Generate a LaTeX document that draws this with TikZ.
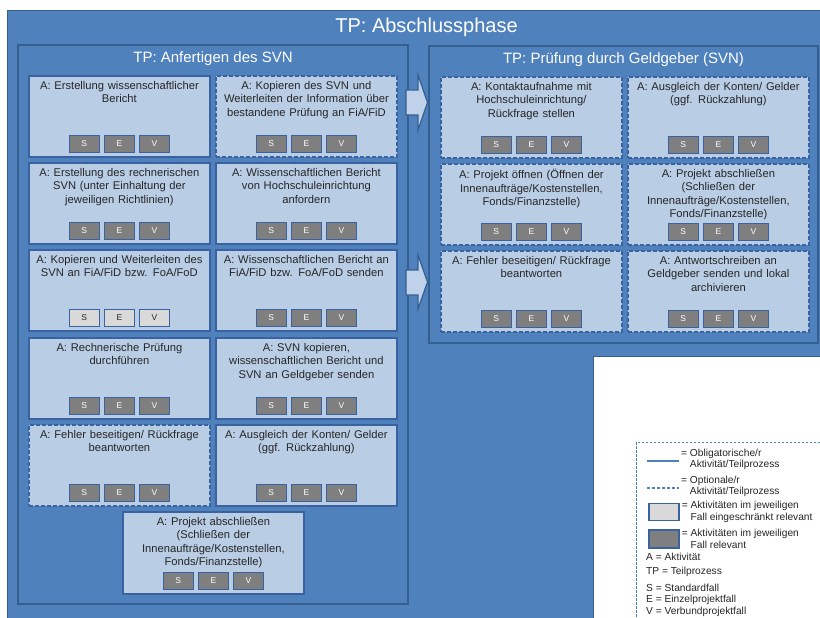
\documentclass[tikz,border=0pt]{standalone}
\usepackage{fontspec}
\setmainfont{Liberation Sans}
\usetikzlibrary{positioning}
\definecolor{phaseblue}{HTML}{4F81BD}
\definecolor{phaseborder}{HTML}{385D8A}
\definecolor{panelborder}{HTML}{365F91}
\definecolor{cellfill}{HTML}{B9CDE5}
\definecolor{cellborder}{HTML}{3A62A0}
\definecolor{btngray}{HTML}{7F7F7F}
\definecolor{btnlight}{HTML}{D9D9D9}
\definecolor{darktext}{HTML}{262626}
\definecolor{arrowfill}{HTML}{BFD2EA}

\newcommand{\activity}[6]{%
\node[#4] (#1) at (#2,#3) {};
\node[acttext,below=6.3pt of #1.north] (#1text) {#5};
\node[#6,above=4.5pt of #1.south] (#1E) {E};
\node[#6,left=3.5pt of #1E] (#1S) {S};
\node[#6,right=3.5pt of #1E] (#1V) {V};
}

\begin{document}
\begin{tikzpicture}[x=1pt,y=-1pt,inner sep=0pt,
panel/.style={draw=panelborder,fill=phaseblue,line width=2pt,anchor=north west,inner sep=0pt},
title/.style={text=white,font=\fontsize{15}{18}\selectfont},
activity/.style={draw=cellborder,fill=cellfill,line width=1.8pt,minimum width=181pt,minimum height=81pt,anchor=north west},
optactivity/.style={activity,dash pattern=on 4pt off 2pt},
acttext/.style={text width=178pt,align=center,text=darktext,font=\fontsize{11.2}{13.3}\selectfont},
btn/.style={draw=cellborder,fill=btngray,line width=1.6pt,minimum width=30pt,minimum height=17pt,text=white,font=\fontsize{8.5}{10}\selectfont},
btnlight/.style={btn,fill=btnlight,text=darktext},
blockarrow/.style={draw=panelborder,fill=arrowfill,line width=1.2pt,line join=miter},
legtext/.style={anchor=west,align=left,text=darktext,font=\fontsize{10.2}{11.2}\selectfont}]

\useasboundingbox (0,0) rectangle (820,618);
\clip (0,0) rectangle (820,618);

\node[draw=phaseborder,fill=phaseblue,line width=1pt,anchor=north west,minimum width=850pt,minimum height=640pt] (phase) at (7,10) {};
\node[text=white,font=\fontsize{20}{24}\selectfont,below=8pt of phase.north,xshift=-6pt] (phasetitle) {TP: Abschlussphase};

\node[panel,minimum width=390pt,minimum height=559pt] (svn) at (17,44) {};
\node[title,below=7.5pt of svn.north] (svntitle) {TP: Anfertigen des SVN};

\node[panel,minimum width=389pt,minimum height=297pt] (geber) at (428,45) {};
\node[title,below=7pt of geber.north] (gebertitle) {TP: Prüfung durch Geldgeber (SVN)};

\activity{bericht}{28}{75}{activity}{A: Erstellung wissenschaftlicher\\Bericht}{btn}
\activity{kopinfo}{215}{75}{optactivity}{A: Kopieren des SVN und\\Weiterleiten der Information über\\bestandene Prüfung an FiA/FiD}{btn}
\activity{rechn}{28}{162}{activity}{A: Erstellung des rechnerischen\\SVN (unter Einhaltung der\\jeweiligen Richtlinien)}{btn}
\activity{anford}{215}{162}{activity}{A: Wissenschaftlichen Bericht\\von Hochschuleinrichtung\\anfordern}{btn}
\activity{kopweit}{28}{249}{activity}{A: Kopieren und Weiterleiten des\\SVN an FiA/FiD bzw. FoA/FoD}{btnlight}
\activity{bersend}{215}{249}{activity}{A: Wissenschaftlichen Bericht an\\FiA/FiD bzw. FoA/FoD senden}{btn}
\activity{rpruef}{28}{337}{activity}{A: Rechnerische Prüfung\\durchführen}{btn}
\activity{svnsend}{215}{337}{activity}{A: SVN kopieren,\\wissenschaftlichen Bericht und\\SVN an Geldgeber senden}{btn}
\activity{fehlera}{28}{424}{optactivity}{A: Fehler beseitigen/ Rückfrage\\beantworten}{btn}
\activity{ausgla}{215}{424}{activity}{A: Ausgleich der Konten/ Gelder\\(ggf. Rückzahlung)}{btn}
\activity{abschla}{122}{511}{activity,minimum height=82pt}{A: Projekt abschließen\\(Schließen der\\Innenaufträge/Kostenstellen,\\Fonds/Finanzstelle)}{btn}

\activity{kontakt}{440}{76}{optactivity}{A: Kontaktaufnahme mit\\Hochschuleinrichtung/\\Rückfrage stellen}{btn}
\activity{ausglb}{627}{76}{optactivity}{A: Ausgleich der Konten/ Gelder\\(ggf. Rückzahlung)}{btn}
\activity{oeffnen}{440}{163}{optactivity}{A: Projekt öffnen (Öffnen der\\Innenaufträge/Kostenstellen,\\Fonds/Finanzstelle)}{btn}
\activity{abschlb}{627}{163}{optactivity}{A: Projekt abschließen\\(Schließen der\\Innenaufträge/Kostenstellen,\\Fonds/Finanzstelle)}{btn}
\activity{fehlerb}{440}{250}{optactivity}{A: Fehler beseitigen/ Rückfrage\\beantworten}{btn}
\activity{antwort}{627}{250}{optactivity}{A: Antwortschreiben an\\Geldgeber senden und lokal\\archivieren}{btn}

\draw[blockarrow] (406,90) -- (418,90) -- (418,75) -- (427.5,102.5) -- (418,130) -- (418,115) -- (406,115) -- cycle;
\draw[blockarrow] (406,270) -- (418,270) -- (418,255) -- (427.5,282) -- (418,309) -- (418,295) -- (406,295) -- cycle;

\draw[phaseborder,fill=white,line width=0.8pt] (593,356) rectangle (840,640);
\draw[phaseblue,line width=0.8pt,dash pattern=on 2.5pt off 1.5pt] (636,442) rectangle (840,640);

\draw[phaseblue,line width=1.2pt] (647,461) -- (679,461);
\node[legtext] (legobl) at (681,459.5) {= Obligatorische/r\\\phantom{= }Aktivität/Teilprozess};
\draw[phaseblue,line width=1.2pt,dash pattern=on 3pt off 2pt] (647,488) -- (679,488);
\node[legtext] (legopt) at (681,486) {= Optionale/r\\\phantom{= }Aktivität/Teilprozess};
\node[btnlight,minimum width=30pt,minimum height=17pt,anchor=north west] (leglight) at (648,502.5) {};
\node[legtext,right=2pt of leglight] (leglighttext) {= Aktivitäten im jeweiligen\\\phantom{= }Fall eingeschränkt relevant};
\node[btn,minimum width=30pt,minimum height=18pt,anchor=north west] (legdark) at (648,529) {};
\node[legtext,right=2pt of legdark] (legdarktext) {= Aktivitäten im jeweiligen\\\phantom{= }Fall relevant};
\node[legtext] (lega) at (646,557) {A = Aktivität};
\node[legtext] (legtp) at (646,572) {TP = Teilprozess};
\node[legtext] (legs) at (646,588) {S = Standardfall};
\node[legtext] (lege) at (646,600) {E = Einzelprojektfall};
\node[legtext] (legv) at (646,612) {V = Verbundprojektfall};
\end{tikzpicture}
\end{document}
